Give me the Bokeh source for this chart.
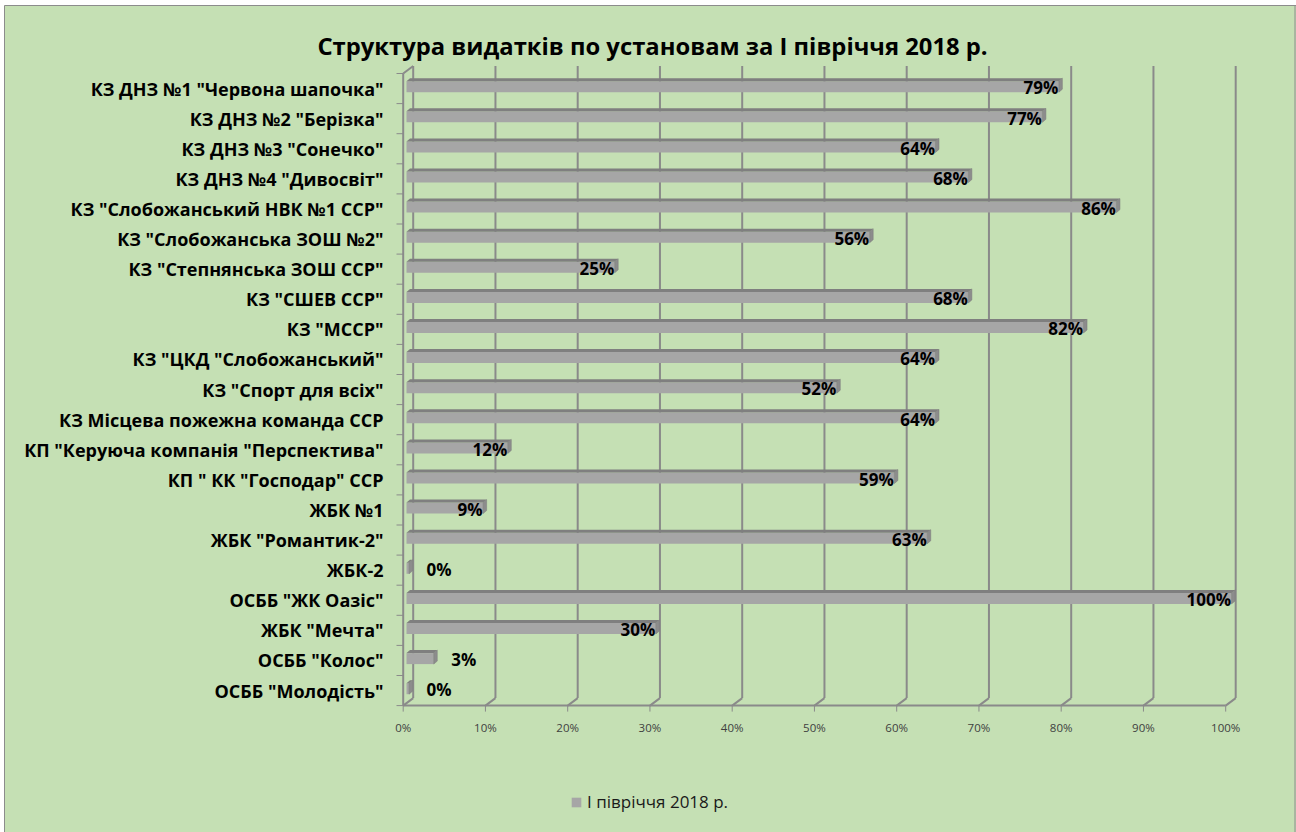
from bokeh.plotting import figure
from bokeh.models import Range1d, ColumnDataSource, Legend, LegendItem
from bokeh.core.properties import value
from bokeh.embed import file_html
from bokeh.resources import INLINE

# ---------------- data ----------------
categories = [
    'КЗ ДНЗ №1 "Червона шапочка"',
    'КЗ ДНЗ №2 "Берізка"',
    'КЗ ДНЗ №3 "Сонечко"',
    'КЗ ДНЗ №4 "Дивосвіт"',
    'КЗ "Слобожанський НВК №1 ССР"',
    'КЗ "Слобожанська ЗОШ №2"',
    'КЗ "Степнянська ЗОШ ССР"',
    'КЗ "СШЕВ ССР"',
    'КЗ "МССР"',
    'КЗ "ЦКД "Слобожанський"',
    'КЗ "Спорт для всіх"',
    'КЗ Місцева пожежна команда ССР',
    'КП "Керуюча компанія "Перспектива"',
    'КП " КК "Господар" ССР',
    'ЖБК №1',
    'ЖБК "Романтик-2"',
    'ЖБК-2',
    'ОСББ "ЖК Оазіс"',
    'ЖБК "Мечта"',
    'ОСББ "Колос"',
    'ОСББ "Молодість"',
]
values = [79, 77, 64, 68, 86, 56, 25, 68, 82, 64, 52, 64, 12, 59, 9, 63, 0, 100, 30, 3, 0]
x_ticks = [0, 10, 20, 30, 40, 50, 60, 70, 80, 90, 100]
tick_labels = ["0%", "10%", "20%", "30%", "40%", "50%", "60%", "70%", "80%", "90%", "100%"]
series_name = "І півріччя 2018 р."
title_text = "Структура видатків по установам за І півріччя 2018 р."

# ---------------- geometry (pixels -> data) ----------------
W, H = 1296, 832
X0_PAGE, X_SCALE = 412.7, 8.225   # page x of 0 %, px per 1 %
Y0_PAGE, Y_SCALE = 73.0, 30.1     # page y of first row boundary, px per row
FONT = "Open Sans"


def px_x(page_x):
    return (page_x - X0_PAGE) / X_SCALE


def px_y(page_y):
    return (page_y - Y0_PAGE) / Y_SCALE


def dx(px):
    return px / X_SCALE


def dy(px):
    return px / Y_SCALE


n = len(categories)
p = figure(width=W, height=H, output_backend="svg", toolbar_location=None,
           x_range=Range1d(px_x(0), px_x(W)), y_range=Range1d(px_y(H), px_y(0)),
           min_border=0, x_axis_location=None, y_axis_location=None)
p.grid.visible = False
p.outline_line_color = None
p.background_fill_color = "white"
p.border_fill_color = "white"

# chart area box
p.quad(left=[px_x(4)], right=[px_x(W + 20)], top=[px_y(5)], bottom=[px_y(H + 20)],
       fill_color="#c5e0b4", line_color="#8c8c8c", line_width=1)
p.segment(x0=[px_x(1294.5)], y0=[px_y(5)], x1=[px_x(1294.5)], y1=[px_y(H)],
          line_color="#8c8c8c", line_width=1)

GRID = "#8a8a8a"
back_dx = dx(10)      # depth offset of the back wall
back_dy = -dy(7.5)
front_left = -back_dx

# back wall gridlines
p.segment(x0=x_ticks, y0=[back_dy] * len(x_ticks), x1=x_ticks, y1=[n + back_dy] * len(x_ticks),
          line_color=GRID, line_width=2)
# floor diagonals
p.segment(x0=x_ticks, y0=[n + back_dy] * len(x_ticks),
          x1=[t - back_dx for t in x_ticks], y1=[n] * len(x_ticks),
          line_color=GRID, line_width=2)
# front floor edge
p.segment(x0=[front_left], y0=[n], x1=[x_ticks[-1] - back_dx], y1=[n], line_color=GRID, line_width=2)
# left wall front edge + top diagonal
p.segment(x0=[front_left, front_left], y0=[0, 0], x1=[front_left, 0], y1=[n, back_dy],
          line_color=GRID, line_width=2)
# left wall ticks
rows_b = list(range(n + 1))
p.segment(x0=[px_x(396)] * len(rows_b), y0=rows_b, x1=[front_left] * len(rows_b), y1=rows_b,
          line_color=GRID, line_width=1)
# bottom ticks
p.segment(x0=[t - back_dx for t in x_ticks], y0=[n] * len(x_ticks),
          x1=[t - back_dx for t in x_ticks], y1=[n + dy(6)] * len(x_ticks),
          line_color=GRID, line_width=1)
# tick labels
p.text(x=[t - back_dx for t in x_ticks], y=[px_y(727)] * len(x_ticks), text=tick_labels,
       text_font=value(FONT), text_font_size="11.5px", text_color="#404040",
       text_align="center", text_baseline="middle")

# ---------------- bars (pseudo 3D) ----------------
bx0 = px_x(406)
d = dx(3.5)
e = dy(3)
face_xs, face_ys, top_xs, top_ys, side_xs, side_ys = [], [], [], [], [], []
for i, v in enumerate(values):
    yt = i + px_y(80.7) - px_y(73)
    yb = i + px_y(91.7) - px_y(73)
    x1 = max(v - 0.5, bx0 + dx(1.5))
    face_xs.append([bx0, x1, x1, bx0])
    face_ys.append([yt, yt, yb, yb])
    top_xs.append([bx0, bx0 + d, x1 + d, x1])
    top_ys.append([yt, yt - e, yt - e, yt])
    side_xs.append([x1, x1 + d, x1 + d, x1])
    side_ys.append([yt, yt - e, yb - e, yb])

face = p.patches(face_xs, face_ys, fill_color="#a6a6a6", line_color=None)
p.patches(top_xs, top_ys, fill_color="#7f7f7f", line_color=None)
p.patches(side_xs, side_ys, fill_color="#8c8c8c", line_color="#7a7a7a", line_width=0.5)

# value labels
rows = list(range(n))
lab = [f"{v}%" for v in values]
inside = [v >= 5 for v in values]
src_in = ColumnDataSource(dict(
    x=[max(v - 0.5, bx0) + d for v, k in zip(values, inside) if k],
    y=[r + 0.48 for r, k in zip(rows, inside) if k],
    t=[l for l, k in zip(lab, inside) if k]))
src_out = ColumnDataSource(dict(
    x=[max(v - 0.5, bx0 + dx(1.5)) + d for v, k in zip(values, inside) if not k],
    y=[r + 0.48 for r, k in zip(rows, inside) if not k],
    t=[l for l, k in zip(lab, inside) if not k]))
p.text(x="x", y="y", text="t", source=src_in, text_font=value(FONT), text_font_style="bold",
       text_font_size="17px", text_color="black", text_align="right", text_baseline="middle",
       x_offset=-4)
p.text(x="x", y="y", text="t", source=src_out, text_font=value(FONT), text_font_style="bold",
       text_font_size="17px", text_color="black", text_align="left", text_baseline="middle",
       x_offset=14)

# category labels
p.text(x=[px_x(383)] * n, y=[r + 0.5 for r in rows], text=categories,
       text_font=value(FONT), text_font_style="bold", text_font_size="18px",
       text_color="black", text_align="right", text_baseline="middle")

# title
p.text(x=[px_x(652)], y=[px_y(45)], text=[title_text], text_font=value(FONT),
       text_font_style="bold", text_font_size="23.8px", text_color="black",
       text_align="center", text_baseline="middle")

# legend
legend = Legend(items=[LegendItem(label=series_name, renderers=[face])],
                location=(570, 19), orientation="horizontal",
                background_fill_alpha=0, border_line_color=None, padding=0, margin=0,
                glyph_width=12, glyph_height=12, label_standoff=5,
                label_text_font=FONT, label_text_font_size="17px", label_text_color="#1a1a1a",
                label_height=12)
p.add_layout(legend)

open("out.html", "w").write(file_html(p, INLINE))
